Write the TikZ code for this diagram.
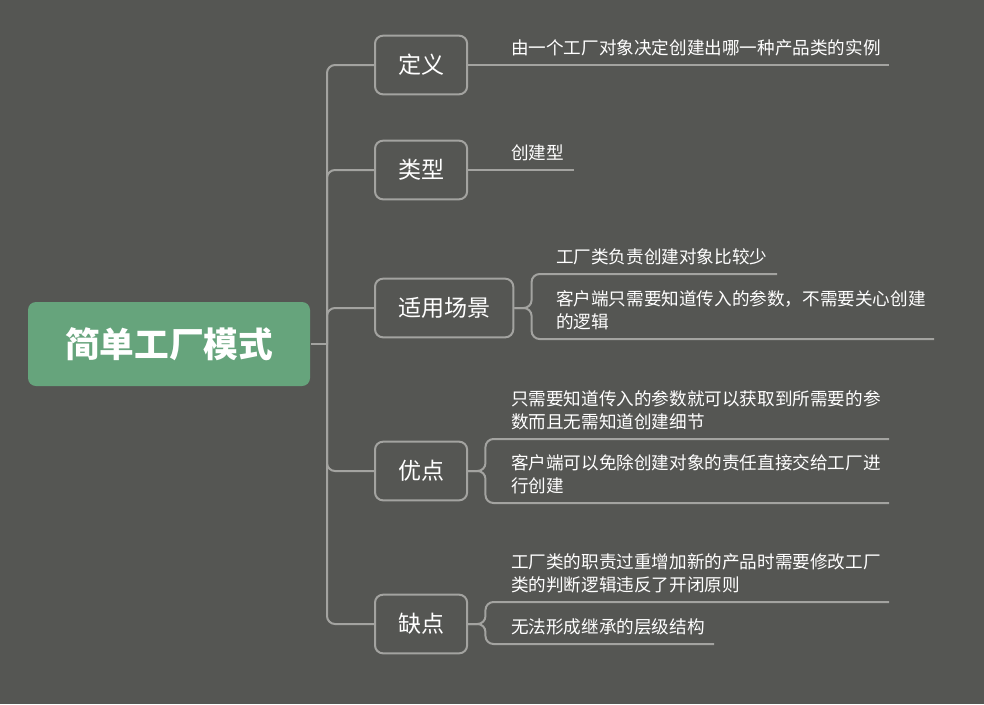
\documentclass[tikz,border=0pt]{standalone}
\usepackage{fontspec}
\setmainfont{Noto Sans CJK SC}
\usepackage{tikz}
\definecolor{bgcol}{RGB}{85,86,83}
\definecolor{linecol}{RGB}{163,163,160}
\definecolor{rootcol}{RGB}{102,164,124}

\begin{document}
\begin{tikzpicture}[x = 0.75pt, y = -0.75pt, line width = 1.5pt,
  topic/.style = {draw = linecol, fill = bgcol, rounded corners = 6pt, text = white, anchor = west,
    inner xsep = 17.25pt, minimum height = 44pt, font = \fontsize{17.3}{20}\selectfont},
  leaf/.style = {anchor = south west, inner xsep = 0pt, inner ysep = 6pt, text = white, align = left,
    font = \fontsize{13.2}{17}\selectfont},
  link/.style = {draw = linecol, rounded corners = 6pt}]
\fill[bgcol] (0, 0) rectangle (984, 704);
\node[fill = rootcol, rounded corners = 6pt, minimum width = 211.5pt, minimum height = 63pt, text = white,
  font = \bfseries\fontsize{26}{30}\selectfont] (root) at (169, 344) {简单工厂模式};
\coordinate (hub) at (327, 344);
\node[topic] (dy) at (374, 65) {定义};
\node[topic] (lx) at (374, 170) {类型};
\node[topic] (cj) at (374, 308) {适用场景};
\node[topic] (yd) at (374, 471) {优点};
\node[topic] (qd) at (374, 624) {缺点};
\draw[link] (root.east) -- (hub);
\foreach \t in {dy, lx, cj, yd, qd}{\draw[link] (hub) |- (\t.west);}
\node[leaf, text width = 282.75pt] (dy1) at (510, 65) {由一个工厂对象决定创建出哪一种产品类的实例};
\node[leaf, text width = 46.5pt] (lx1) at (510, 170) {创建型};
\node[leaf, text width = 165pt] (cj1) at (555, 274) {工厂类负责创建对象比较少};
\node[leaf, text width = 282.75pt] (cj2) at (555, 339) {客户端只需要知道传入的参数，不需要关心创建\\的逻辑};
\node[leaf, text width = 282.75pt] (yd1) at (510, 439) {只需要知道传入的参数就可以获取到所需要的参\\数而且无需知道创建细节};
\node[leaf, text width = 282.75pt] (yd2) at (510, 503) {客户端可以免除创建对象的责任直接交给工厂进\\行创建};
\node[leaf, text width = 282.75pt] (qd1) at (510, 602) {工厂类的职责过重增加新的产品时需要修改工厂\\类的判断逻辑违反了开闭原则};
\node[leaf, text width = 151.5pt] (qd2) at (510, 644) {无法形成继承的层级结构};
\foreach \t/\l in {dy/dy1, lx/lx1}{\draw[link] (\t.east) -- (\l.south east);}
\foreach \t/\l in {cj/cj1, cj/cj2, yd/yd1, yd/yd2, qd/qd1, qd/qd2}{
  \draw[link] (\t.east) -- ([xshift = 13pt]\t.east) |- (\l.south west) -- (\l.south east);}
\end{tikzpicture}
\end{document}
